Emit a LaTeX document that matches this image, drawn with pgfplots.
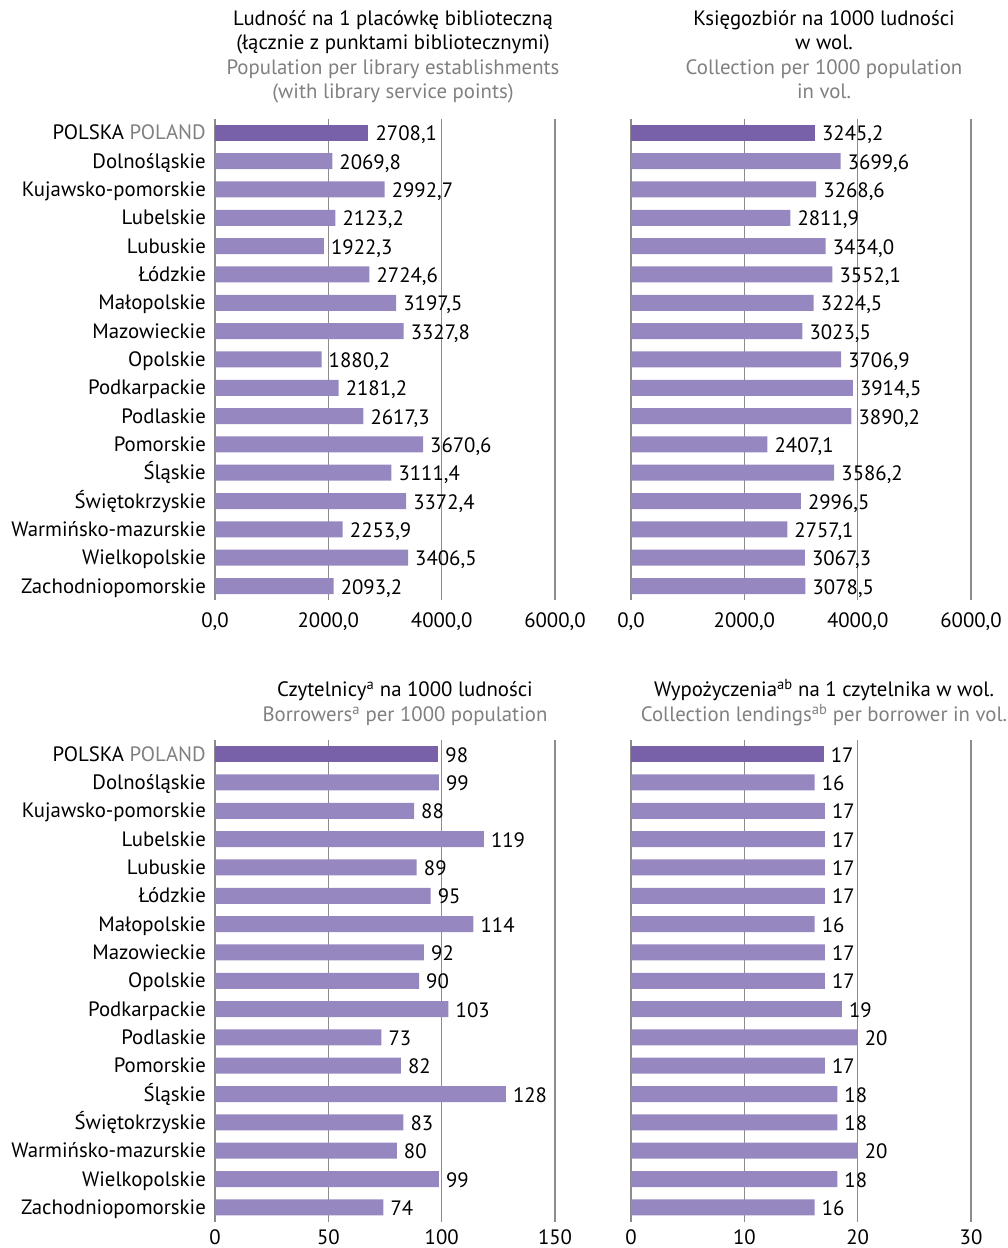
\documentclass[border=0pt]{standalone}
\usepackage{pgfplots}
\pgfplotsset{compat=1.18}
\usepackage{fontspec}
\setmainfont{PT Sans}
\definecolor{dark}{HTML}{7861A9}
\definecolor{light}{HTML}{9687C1}
\definecolor{gridg}{HTML}{8C8C8C}
\definecolor{tgray}{HTML}{808080}
\newcommand\fs{\fontsize{20.8bp}{24bp}\selectfont}
\pgfplotsset{panel/.style={
  scale only axis, width=340bp, height=481.5bp,
  xbar, bar width=16bp, bar shift=0pt,
  ymin=-0.5, ymax=16.5, y dir=reverse,
  axis line style={draw=none}, major tick length=0pt,
  xmajorgrids, grid style={color=gridg, line width=1.2bp},
  xticklabel style={font=\fs, inner sep=0pt, anchor=north},
  yticklabel style={font=\fs, inner sep=0pt, anchor=base east, xshift=-9bp, yshift=-7bp},
  nodes near coords, point meta=explicit symbolic,
  nodes near coords style={font=\fs, text=black, inner sep=0pt, anchor=base west, xshift=7bp, yshift=-8bp},
},
cats/.style={ytick={0,...,16}, yticklabels={POLSKA \textcolor{tgray}{POLAND},Dolnośląskie,Kujawsko-pomorskie,Lubelskie,Lubuskie,Łódzkie,Małopolskie,Mazowieckie,Opolskie,Podkarpackie,Podlaskie,Pomorskie,Śląskie,Świętokrzyskie,Warmińsko-mazurskie,Wielkopolskie,Zachodniopomorskie}},
nocats/.style={ytick=\empty},
high/.style={xticklabel style={yshift=-12bp}},
low/.style={xticklabel style={yshift=-7.5bp}}}
\begin{document}
\begin{tikzpicture}[x=1bp,y=1bp]
\useasboundingbox (0,0) rectangle (1008,1248);
% titles
\node[font=\fs, anchor=base] at (393,1222) {Ludność na 1 placówkę biblioteczną};
\node[font=\fs, anchor=base] at (393,1198) {(łącznie z punktami bibliotecznymi)};
\node[font=\fs, anchor=base, text=tgray] at (393,1173) {Population per library establishments};
\node[font=\fs, anchor=base, text=tgray] at (393,1149) {(with library service points)};
\node[font=\fs, anchor=base] at (824,1222) {Księgozbiór na 1000 ludności};
\node[font=\fs, anchor=base] at (824,1198) {w wol.};
\node[font=\fs, anchor=base, text=tgray] at (824,1173) {Collection per 1000 population};
\node[font=\fs, anchor=base, text=tgray] at (824,1149) {in vol.};
\node[font=\fs, anchor=base] at (405,551) {Czytelnicy\textsuperscript{a} na 1000 ludności};
\node[font=\fs, anchor=base, text=tgray] at (405,526) {Borrowers\textsuperscript{a} per 1000 population};
\node[font=\fs, anchor=base] at (824,551) {Wypożyczenia\textsuperscript{ab} na 1 czytelnika w wol.};
\node[font=\fs, anchor=base, text=tgray] at (824,526) {Collection lendings\textsuperscript{ab} per borrower in vol.};

% top-left
\begin{axis}[panel, cats, high, at={(215bp,647.8bp)}, anchor=south west,
  xmin=0, xmax=6000, xtick={0,2000,4000,6000},
  xticklabels={{0,0},{2000,0},{4000,0},{6000,0}}]
\addplot[fill=dark, draw=none] table[x=v, y=i, meta=l] {
v i l
2708.1 0 2708,1
};
\addplot[fill=light, draw=none] table[x=v, y=i, meta=l] {
v i l
2069.8 1 2069,8
2992.7 2 2992,7
2123.2 3 2123,2
1922.3 4 1922,3
2724.6 5 2724,6
3197.5 6 3197,5
3327.8 7 3327,8
1880.2 8 1880,2
2181.2 9 2181,2
2617.3 10 2617,3
3670.6 11 3670,6
3111.4 12 3111,4
3372.4 13 3372,4
2253.9 14 2253,9
3406.5 15 3406,5
2093.2 16 2093,2
};
\end{axis}

% top-right
\begin{axis}[panel, nocats, high, at={(631bp,647.8bp)}, anchor=south west,
  xmin=0, xmax=6000, xtick={0,2000,4000,6000},
  xticklabels={{0,0},{2000,0},{4000,0},{6000,0}}]
\addplot[fill=dark, draw=none] table[x=v, y=i, meta=l] {
v i l
3245.2 0 3245,2
};
\addplot[fill=light, draw=none] table[x=v, y=i, meta=l] {
v i l
3699.6 1 3699,6
3268.6 2 3268,6
2811.9 3 2811,9
3434.0 4 3434,0
3552.1 5 3552,1
3224.5 6 3224,5
3023.5 7 3023,5
3706.9 8 3706,9
3914.5 9 3914,5
3890.2 10 3890,2
2407.1 11 2407,1
3586.2 12 3586,2
2996.5 13 2996,5
2757.1 14 2757,1
3067.3 15 3067,3
3078.5 16 3078,5
};
\end{axis}

% bottom-left
\begin{axis}[panel, cats, low, at={(215bp,26.5bp)}, anchor=south west,
  xmin=0, xmax=150, xtick={0,50,100,150},
  xticklabels={0,50,100,150}]
\addplot[fill=dark, draw=none] table[x=v, y=i, meta=l] {
v i l
98.5 0 98
};
\addplot[fill=light, draw=none] table[x=v, y=i, meta=l] {
v i l
98.8 1 99
87.8 2 88
118.6 3 119
89.0 4 89
95.1 5 95
114.0 6 114
92.2 7 92
90.0 8 90
103.0 9 103
73.4 10 73
82.0 11 82
128.3 12 128
83.1 13 83
80.2 14 80
98.8 15 99
74.3 16 74
};
\end{axis}

% bottom-right
\begin{axis}[panel, nocats, low, at={(631bp,26.5bp)}, anchor=south west,
  xmin=0, xmax=30, xtick={0,10,20,30},
  xticklabels={0,10,20,30}]
\addplot[fill=dark, draw=none] table[x=v, y=i, meta=l] {
v i l
17.0 0 17
};
\addplot[fill=light, draw=none] table[x=v, y=i, meta=l] {
v i l
16.2 1 16
17.1 2 17
17.1 3 17
17.1 4 17
17.1 5 17
16.2 6 16
17.1 7 17
17.1 8 17
18.6 9 19
20.0 10 20
17.1 11 17
18.2 12 18
18.2 13 18
20.0 14 20
18.2 15 18
16.2 16 16
};
\end{axis}
\end{tikzpicture}
\end{document}
